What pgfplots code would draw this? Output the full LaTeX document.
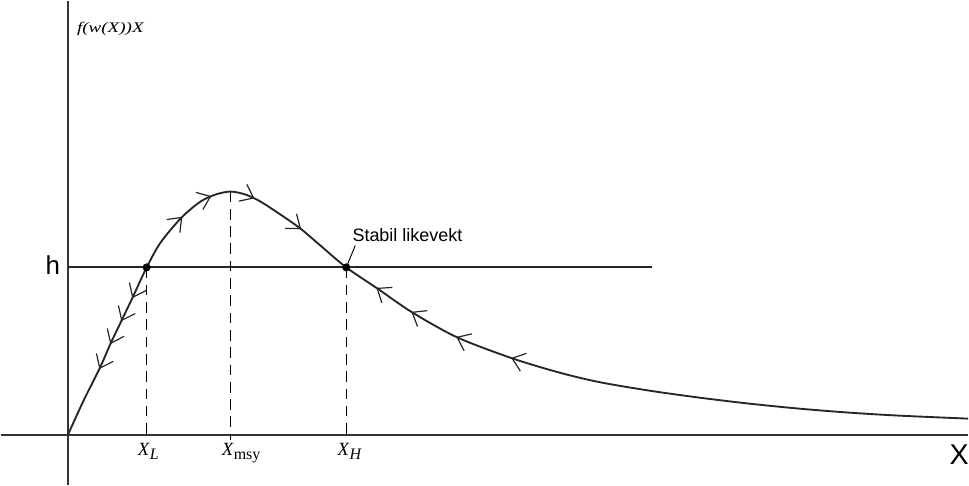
\documentclass[border=0pt]{standalone}
\usepackage{pgfplots}
\pgfplotsset{compat=1.18}
\usepackage{fontspec}
\setmainfont{Liberation Serif}
\setsansfont{Liberation Sans}
\usetikzlibrary{decorations.markings}
\begin{document}
\begin{tikzpicture}
\begin{axis}[
  width=726.75pt, height=363.75pt, scale only axis,
  xmin=0, xmax=969, ymin=0, ymax=485,
  axis lines=none, clip=false,
]
% axes
\draw[line width=1.4pt, color=black!80] (axis cs:0,50) -- (axis cs:969,50);
\draw[line width=1.4pt, color=black!80] (axis cs:67,0) -- (axis cs:67,485);
% h line
\draw[line width=1.4pt, color=black!85] (axis cs:67,218) -- (axis cs:652,218);
% dashed verticals
\draw[line width=1.1pt, dash pattern=on 8pt off 5pt] (axis cs:146,218) -- (axis cs:146,50);
\draw[line width=1.1pt, dash pattern=on 8pt off 5pt] (axis cs:230,294) -- (axis cs:230,45);
\draw[line width=1.1pt, dash pattern=on 8pt off 5pt] (axis cs:346,218) -- (axis cs:346,50);
% ticks
\draw[line width=1.1pt] (axis cs:146,50) -- (axis cs:146,58);
\draw[line width=1.1pt] (axis cs:346,50) -- (axis cs:346,58);
% curve
\addplot[smooth, line width=1.4pt, color=black!85,
  postaction={decorate},
  decoration={markings,
    mark=at position 0.0677 with {\draw[line width=0.9pt,-] (9pt,7pt)--(0,0)--(9pt,-7pt);},
    mark=at position 0.0926 with {\draw[line width=0.9pt,-] (9pt,7pt)--(0,0)--(9pt,-7pt);},
    mark=at position 0.1158 with {\draw[line width=0.9pt,-] (9pt,7pt)--(0,0)--(9pt,-7pt);},
    mark=at position 0.1391 with {\draw[line width=0.9pt,-] (9pt,7pt)--(0,0)--(9pt,-7pt);},
    mark=at position 0.2252 with {\draw[line width=0.9pt,-] (-9pt,7pt)--(0,0)--(-9pt,-7pt);},
    mark=at position 0.2580 with {\draw[line width=0.9pt,-] (-9pt,7pt)--(0,0)--(-9pt,-7pt);},
    mark=at position 0.2990 with {\draw[line width=0.9pt,-] (-9pt,7pt)--(0,0)--(-9pt,-7pt);},
    mark=at position 0.3500 with {\draw[line width=0.9pt,-] (-9pt,7pt)--(0,0)--(-9pt,-7pt);},
    mark=at position 0.4392 with {\draw[line width=0.9pt,-] (9pt,7pt)--(0,0)--(9pt,-7pt);},
    mark=at position 0.4779 with {\draw[line width=0.9pt,-] (9pt,7pt)--(0,0)--(9pt,-7pt);},
    mark=at position 0.5249 with {\draw[line width=0.9pt,-] (9pt,7pt)--(0,0)--(9pt,-7pt);},
    mark=at position 0.5786 with {\draw[line width=0.9pt,-] (9pt,7pt)--(0,0)--(9pt,-7pt);}
  }] coordinates {
(67,50) (83,85) (99,117) (110,142) (121,165) (132,188) (146,218) (160,243)
(181,268) (200,284) (215,291) (230,294) (245,291) (260,284) (280,271) (300,257)
(320,240) (346,218) (377,197) (412,173) (457,148) (512,127) (560,112.5) (600,103)
(650,94.5) (700,87.5) (750,81.5) (800,76.5) (850,72.5) (900,69.5) (969,66.5)
};
% equilibrium dots
\addplot[only marks, mark=*, mark size=2.8pt, color=black] coordinates {(146,218) (346,218)};
% leader line
\draw[line width=0.7pt] (axis cs:346,218) -- (axis cs:355,240);
% labels
\node[anchor=base west, font=\sffamily\fontsize{13.5}{15}\selectfont, inner sep=0pt] at (axis cs:352,244) {Stabil likevekt};
\node[anchor=base, font=\sffamily\fontsize{19.5}{22}\selectfont, inner sep=0pt] at (axis cs:52,211) {h};
\node[anchor=base, font=\sffamily\fontsize{21.5}{24}\selectfont, inner sep=0pt] at (axis cs:960,21) {X};
\node[anchor=base west, inner sep=0pt, font=\fontsize{14}{16}\selectfont] at (axis cs:137,30) {\textit{X}\raisebox{-0.55ex}{\fontsize{12}{14}\selectfont\textit{L}}};
\node[anchor=base west, inner sep=0pt, font=\fontsize{14}{16}\selectfont] at (axis cs:221,30) {\textit{X}\raisebox{-0.55ex}{\fontsize{12}{14}\selectfont msy}};
\node[anchor=base west, inner sep=0pt, font=\fontsize{14}{16}\selectfont] at (axis cs:337,30) {\textit{X}\raisebox{-0.55ex}{\fontsize{12}{14}\selectfont\textit{H}}};
\node[anchor=west, inner sep=0pt] at (axis cs:76,457) {\scalebox{1.3}[1]{\fontsize{11}{13}\selectfont\itshape f(w(X))X}};
\end{axis}
\end{tikzpicture}
\end{document}
